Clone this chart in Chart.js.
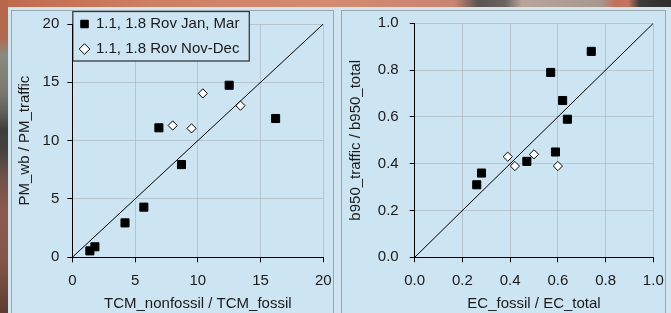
<!DOCTYPE html>
<html>
<head>
<meta charset="utf-8">
<script src="https://cdn.jsdelivr.net/npm/chart.js@4.4.1/dist/chart.umd.min.js"></script>
<style>
  body{margin:0;width:671px;height:313px;overflow:hidden;position:relative;background:#cfe3ee;}
  #topo{position:absolute;left:0;top:0;width:671px;height:7px;
    background:linear-gradient(to right,#c06a4c 0px,#cf7f62 150px,#d48b70 330px,#c98472 455px,#5a5552 478px,#6a625e 505px,#b8a49a 522px,#a89890 600px,#c2705c 615px,#c47460 628px,#3c3a3a 640px,#2e2e2e 671px);}
  #lado{position:absolute;left:0;top:0;width:8px;height:313px;
    background:linear-gradient(to bottom,#b8684c 0px,#b06a50 38px,#8a8a80 55px,#7c7a72 90px,#62625e 110px,#3e3e3c 130px,#454240 150px,#6e5048 175px,#8c5a4c 210px,#84564a 260px,#5e3c32 313px);}
  #folha{position:absolute;left:8px;top:7px;right:0;bottom:0;background:#d2e6f2;}
  .painel{position:absolute;top:10px;border:1px solid #9ba6ac;background:#cde4f2;}
  canvas{display:block;}
</style>
</head>
<body>
<div id="topo"></div>
<div id="lado"></div>
<div id="folha"></div>
<div class="painel" style="left:11px;width:321px;height:303px"><canvas id="g1" width="321" height="302"></canvas></div>
<div class="painel" style="left:341px;width:323px;height:303px"><canvas id="g2" width="323" height="302"></canvas></div>
<script>
// legenda
var nomes = ['1.1, 1.8 Rov Jan, Mar', '1.1, 1.8 Rov Nov-Dec'];

// painel esquerdo: TCM_nonfossil / TCM_fossil x PM_wb / PM_traffic
var janX1 = [1.4, 1.8, 4.2, 5.7, 8.7, 6.9, 12.5, 16.2];
var janY1 = [0.55, 0.9, 2.95, 4.3, 7.95, 11.1, 14.75, 11.9];
var novX1 = [8.0, 9.5, 10.4, 13.4];
var novY1 = [11.3, 11.05, 14.05, 13.0];
var diag1 = [0, 20];
var marcas1 = [0, 5, 10, 15, 20];

// painel direito: EC_fossil / EC_total x b950_traffic / b950_total
var janX2 = [0.57, 0.74, 0.62, 0.64, 0.59, 0.47, 0.28, 0.26];
var janY2 = [0.79, 0.88, 0.67, 0.59, 0.45, 0.41, 0.36, 0.31];
var novX2 = [0.39, 0.42, 0.50, 0.60];
var novY2 = [0.43, 0.39, 0.44, 0.39];
var diag2 = [0, 1];
var marcas2 = [0, 0.2, 0.4, 0.6, 0.8, 1.0];

var corPainel = '#cde4f2';
var corTexto = '#1a1a1a';
var fonte = {family: '"Liberation Sans", Arial, sans-serif', size: 15};

function pares(xs, ys) {
  return xs.map(function (x, i) { return {x: x, y: ys[i]}; });
}

var moldura = {
  id: 'moldura',
  afterLayout: function (chart) {
    var lg = chart.legend;
    if (!lg || !lg.options.display) return;
    var a = chart.chartArea;
    lg.left = a.left - 1.8;
    lg.top = a.top - 17.5;
    lg.right = lg.left + 190;
    lg.bottom = lg.top + 62;
    if (!lg._moldura) {
      var desenha = lg.draw;
      lg.draw = function (area) {
        var ctx = this.ctx;
        var ca = chart.chartArea;
        ctx.save();
        ctx.fillStyle = corPainel;
        ctx.strokeStyle = '#3a3a3a';
        ctx.lineWidth = 1.3;
        ctx.fillRect(ca.left + 0.5, 0.5, 176.5, 49.5);
        ctx.strokeRect(ca.left + 0.5, 0.5, 176.5, 49.5);
        ctx.restore();
        desenha.call(this, area);
      };
      lg._moldura = true;
    }
  }
};

function grafico(id, janX, janY, novX, novY, diag, marcas, tituloX, tituloY, cfg) {
  var casas = cfg.casas;
  function eixo(titulo, vertical) {
    return {
      type: 'linear',
      min: marcas[0],
      max: marcas[marcas.length - 1],
      afterBuildTicks: function (s) { s.ticks = marcas.map(function (v) { return {value: v}; }); },
      afterFit: function (s) {
        if (vertical) s.width = cfg.largY; else s.height = cfg.altX;
        s.paddingLeft = 0; s.paddingRight = 0; s.paddingTop = 0; s.paddingBottom = 0;
      },
      grid: {color: 'rgba(165,172,178,0.55)', tickColor: '#000', tickLength: 5, lineWidth: 1},
      border: {color: '#000', width: 1},
      ticks: {
        autoSkip: false,
        color: corTexto,
        font: fonte,
        padding: vertical ? cfg.padY : 10,
        callback: function (v) { return v.toFixed(casas); }
      },
      title: {
        display: true,
        text: titulo,
        color: corTexto,
        font: fonte,
        padding: vertical ? {top: cfg.titY, bottom: 0} : {top: 0, bottom: 0}
      }
    };
  }

  return new Chart(document.getElementById(id), {
    type: 'scatter',
    data: {
      datasets: [
        {label: nomes[0], data: pares(janX, janY), pointStyle: 'rect', pointRadius: 5.7,
          backgroundColor: '#000', borderColor: '#000', borderWidth: 1},
        {label: nomes[1], data: pares(novX, novY), pointStyle: 'rectRot', pointRadius: 4.6,
          backgroundColor: '#fff', borderColor: '#000', borderWidth: 1},
        {type: 'line', label: '1:1', data: pares(diag, diag), borderColor: '#000', borderWidth: 1,
          pointRadius: 0, fill: false}
      ]
    },
    options: {
      responsive: false,
      maintainAspectRatio: false,
      animation: false,
      devicePixelRatio: 1,
      events: [],
      layout: {padding: {left: 0, top: cfg.topo, right: cfg.dir, bottom: 0}},
      scales: {
        x: eixo(tituloX, false),
        y: eixo(tituloY, true)
      },
      plugins: {
        tooltip: {enabled: false},
        legend: {
          display: cfg.legenda,
          position: 'chartArea',
          align: 'start',
          labels: {
            usePointStyle: true,
            boxWidth: 8,
            boxHeight: 7.5,
            padding: 10,
            color: corTexto,
            font: fonte,
            filter: function (item) { return item.datasetIndex < 2; }
          }
        }
      }
    },
    plugins: [moldura]
  });
}

var graficos = [
  grafico('g1', janX1, janY1, novX1, novY1, diag1, marcas1, 'TCM_nonfossil / TCM_fossil', 'PM_wb / PM_traffic',
    {casas: 0, largY: 60.3, altX: 55.7, topo: 13, dir: 9.7, padY: 8, titY: 4, legenda: true}),
  grafico('g2', janX2, janY2, novX2, novY2, diag2, marcas2, 'EC_fossil / EC_total', 'b950_traffic / b950_total',
    {casas: 1, largY: 72.7, altX: 55.7, topo: 12.3, dir: 11.7, padY: 11, titY: 5, legenda: false})
];
</script>
</body>
</html>
